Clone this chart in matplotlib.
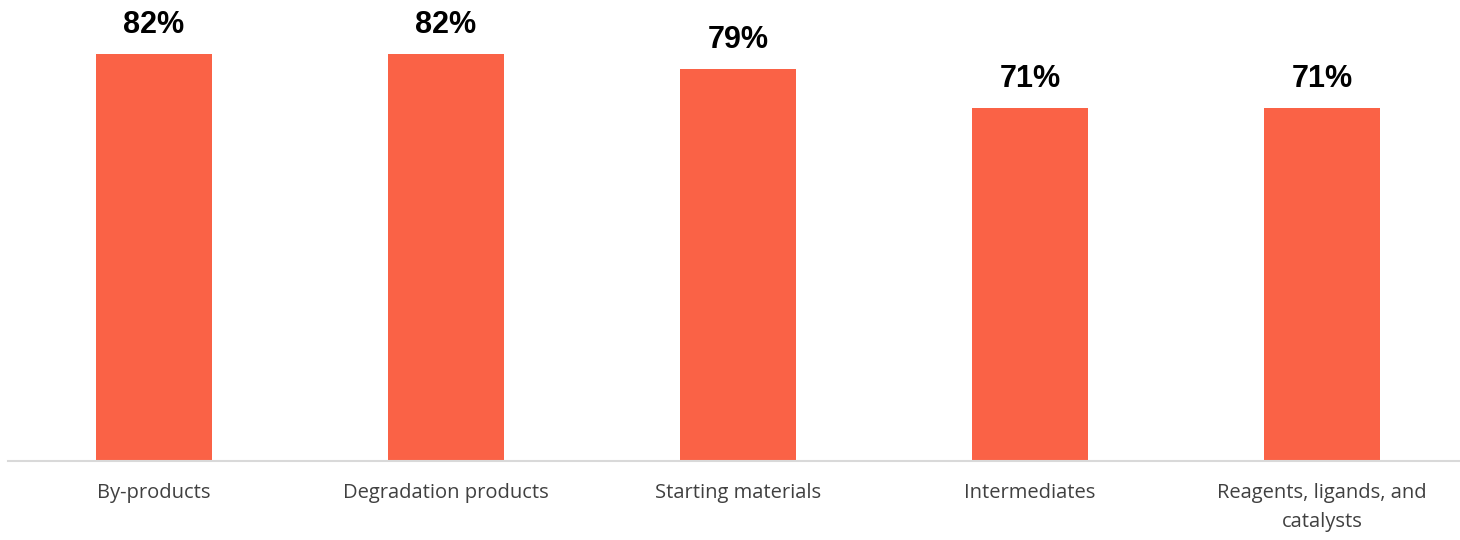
import numpy as np
import matplotlib.pyplot as plt

categories = ["By-products", "Degradation products", "Starting materials",
              "Intermediates", "Reagents, ligands, and\ncatalysts"]
values = [82, 82, 79, 71, 71]

if __name__ == '__main__':
    fig = plt.figure(figsize=(14.6, 5.4), dpi=100)
    # axes bottom sits on the baseline, top at the figure edge
    ax = fig.add_axes([8 / 1460, 79 / 540, 1460 / 1460, 461 / 540])

    x = np.arange(len(categories))
    bars = ax.bar(x, values, width=0.4, color="#FA6246", zorder=2)

    for b, v in zip(bars, values):
        ax.annotate(f"{v}%", (b.get_x() + b.get_width() / 2, v),
                    xytext=(0, 10), textcoords="offset points",
                    ha="center", va="bottom", fontsize=22, fontweight="bold",
                    family="Liberation Sans", color="black")

    ax.set_xlim(-0.5, 4.5)
    ax.set_ylim(0, 92.8)
    ax.set_xticks(x)
    ax.set_xticklabels(categories, fontsize=14.5, family="Open Sans",
                       color="#404040", linespacing=1.6)
    ax.tick_params(axis="x", length=0, pad=16)
    ax.set_yticks([])

    for s in ["top", "right", "left"]:
        ax.spines[s].set_visible(False)
    ax.spines["bottom"].set_color("#D9D9D9")
    ax.spines["bottom"].set_linewidth(1.5)

    plt.savefig("out.png", dpi=100)
